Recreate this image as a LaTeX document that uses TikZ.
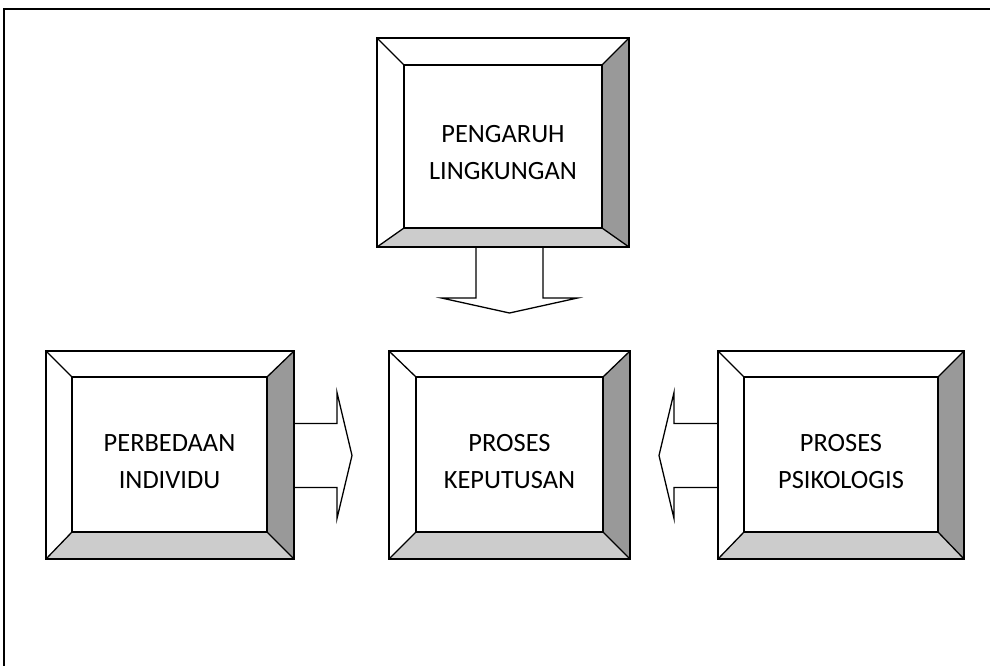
\documentclass[tikz,border=0pt]{standalone}
\usepackage{fontspec}
\setmainfont{Carlito}
\usepackage{xcolor}
\usetikzlibrary{backgrounds}
\definecolor{sidegray}{RGB}{153,153,153}
\definecolor{basegray}{RGB}{204,204,204}

% shaded bevel between outer box (#1-o) and inner box (#1)
\newcommand{\bevelshade}[1]{%
  \begin{scope}[on background layer]
    \fill[sidegray] (#1-o.north east) -- (#1-o.south east) -- (#1.south east) -- (#1.north east) -- cycle;
    \fill[basegray] (#1-o.south west) -- (#1-o.south east) -- (#1.south east) -- (#1.south west) -- cycle;
  \end{scope}
  \draw (#1-o.north west) -- (#1.north west) (#1-o.north east) -- (#1.north east)
        (#1-o.south west) -- (#1.south west) (#1-o.south east) -- (#1.south east);
}

\begin{document}
\begin{tikzpicture}[x=1bp, y=-1bp, line width=1.3bp, line join=miter,
  framebox/.style={draw, rectangle, inner sep=0pt, outer sep=0pt},
  boxtext/.style={align=center, inner sep=0pt, font=\fontsize{26.5}{37}\selectfont},
  blockarrow/.style={draw}]
  \useasboundingbox (0,0) rectangle (990,666);
  \draw[line width=1.8bp] (4,666) -- (4,9) -- (990,9);

  % boxes
  \node[framebox, minimum width=252bp, minimum height=209bp] (lingk-o) at (503,142.5) {};
  \node[framebox, minimum width=198bp, minimum height=163bp] (lingk) at (503,146.5) {};
  \node[framebox, minimum width=248bp, minimum height=208bp] (indiv-o) at (170,455) {};
  \node[framebox, minimum width=195bp, minimum height=155bp] (indiv) at (169.5,454.5) {};
  \node[framebox, minimum width=241bp, minimum height=208bp] (keput-o) at (509.5,455) {};
  \node[framebox, minimum width=187bp, minimum height=155bp] (keput) at (509.5,454.5) {};
  \node[framebox, minimum width=246bp, minimum height=208bp] (psiko-o) at (841,455) {};
  \node[framebox, minimum width=194bp, minimum height=155bp] (psiko) at (841,454.5) {};
  \bevelshade{lingk}
  \bevelshade{indiv}
  \bevelshade{keput}
  \bevelshade{psiko}

  \node[boxtext] (lingk-t) at ([yshift=-6bp]lingk.center) {PENGARUH\\LINGKUNGAN};
  \node[boxtext] (indiv-t) at ([yshift=-7bp]indiv.center) {PERBEDAAN\\INDIVIDU};
  \node[boxtext] (keput-t) at ([yshift=-7bp]keput.center) {PROSES\\KEPUTUSAN};
  \node[boxtext] (psiko-t) at ([yshift=-7bp]psiko.center) {PROSES\\PSIKOLOGIS};

  % block arrows
  \draw[blockarrow] (lingk-o.south -| keput-o.north) ++(-33.5,0) -- ++(0,51) -- ++(-34.5,0)
    -- ++(68,15) -- ++(68,-15) -- ++(-34.5,0) -- ++(0,-51);
  \draw[blockarrow] (indiv-o.east) ++(0,-31.5) -- ++(43,0) -- ++(0,-31)
    -- ++(15,63) -- ++(-15,63) -- ++(0,-31) -- ++(-43,0);
  \draw[blockarrow] (psiko-o.west) ++(0,-31.5) -- ++(-44,0) -- ++(0,-31)
    -- ++(-15,63) -- ++(15,63) -- ++(0,-31) -- ++(44,0);
\end{tikzpicture}
\end{document}
